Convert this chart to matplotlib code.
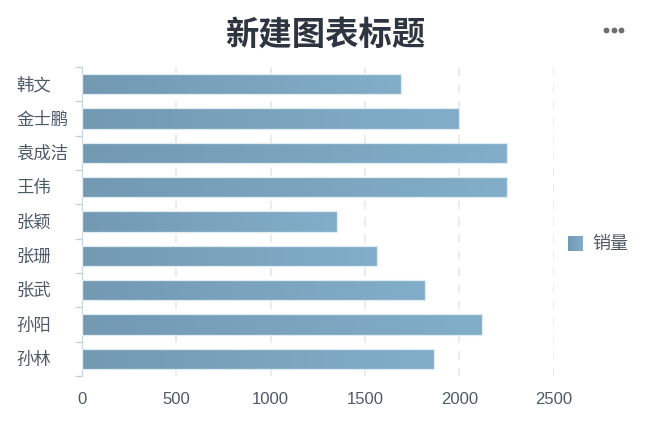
import numpy as np
import matplotlib.pyplot as plt
import matplotlib.transforms as mtransforms
from matplotlib.colors import LinearSegmentedColormap
from matplotlib.lines import Line2D

plt.rcParams['font.family'] = ['Noto Sans CJK SC', 'DejaVu Sans']

names = ['韩文', '金士鹏', '袁成洁', '王伟', '张颖', '张珊', '张武', '孙阳', '孙林']
sales = [1690, 2000, 2255, 2255, 1350, 1565, 1820, 2120, 1865]
series_name = '销量'
title = '新建图表标题'

W, H = 658, 431
fig = plt.figure(figsize=(W/100, H/100), dpi=100)
ax = fig.add_axes([81.7/W, 1 - 377/H, (553.7 - 81.7)/W, (377 - 68)/H])

cmap = LinearSegmentedColormap.from_list('bar', ['#7399b3', '#82aec9'])
grad = np.vstack([np.linspace(0, 1, 256)] * 4)
bar_h = 0.6
ypos = np.arange(len(names))

ax.set_xlim(0, 2500)
ax.set_ylim(len(names) - 0.5, -0.5)

bars = ax.barh(ypos, sales, height=bar_h, color='none', edgecolor='#e2ecf3', lw=0.9, zorder=3)
for b, y, v in zip(bars, ypos, sales):
  im = ax.imshow(grad, cmap=cmap, aspect='auto', interpolation='nearest',
                 extent=[0, v, y - bar_h/2 - 0.05, y + bar_h/2 + 0.05], zorder=2)
  im.set_clip_path(b)
ax.set_xlim(0, 2500)
ax.set_ylim(len(names) - 0.5, -0.5)

ax.set_xticks([0, 500, 1000, 1500, 2000, 2500])
ax.set_yticks(ypos)
ax.set_yticklabels([])
ax.set_yticks(np.arange(-0.5, len(names)), minor=True)
ax.tick_params(axis='y', which='major', length=0)
ax.tick_params(axis='y', which='minor', length=5, color='#c8d2dc', width=1)
ax.tick_params(axis='x', length=0, labelsize=12, labelcolor='#4e5a68', pad=11)
for lab in ax.get_xticklabels():
  lab.set_fontfamily('Liberation Sans')
for s in ['top', 'right', 'bottom']:
  ax.spines[s].set_visible(False)
ax.spines['left'].set_color('#c8d2dc')
ax.xaxis.grid(True, linestyle=(0, (5, 5)), color='#e3e9f0', lw=1.2, zorder=0)
ax.set_axisbelow(True)

# category labels, left aligned at fixed pixel position
trans = mtransforms.blended_transform_factory(fig.transFigure, ax.transData)
for y, n in zip(ypos, names):
  ax.text(16/W, y, n, transform=trans, ha='left', va='center', fontsize=12.5, color='#4e5a68')

fig.text(325/W, 1 - 35/H, title, ha='center', va='center', fontsize=24, fontweight='bold', color='#2e3540')
fig.lines.append(Line2D([606/W, 613.5/W, 621/W], [1 - 30.5/H] * 3, transform=fig.transFigure,
                        ls='none', marker='o', ms=4.2, mew=0, color='#6e6e6e'))

# legend
lax = fig.add_axes([568/W, 1 - 252/H, 15/W, 15/H])
lax.imshow(grad, cmap=cmap, aspect='auto', extent=[0, 1, 0, 1])
lax.set_xlim(0, 1); lax.set_ylim(0, 1)
lax.axis('off')
fig.text(592/W, 1 - 244/H, series_name, ha='left', va='center', fontsize=13, color='#4e5a68')

fig.savefig('out.png', dpi=100)
